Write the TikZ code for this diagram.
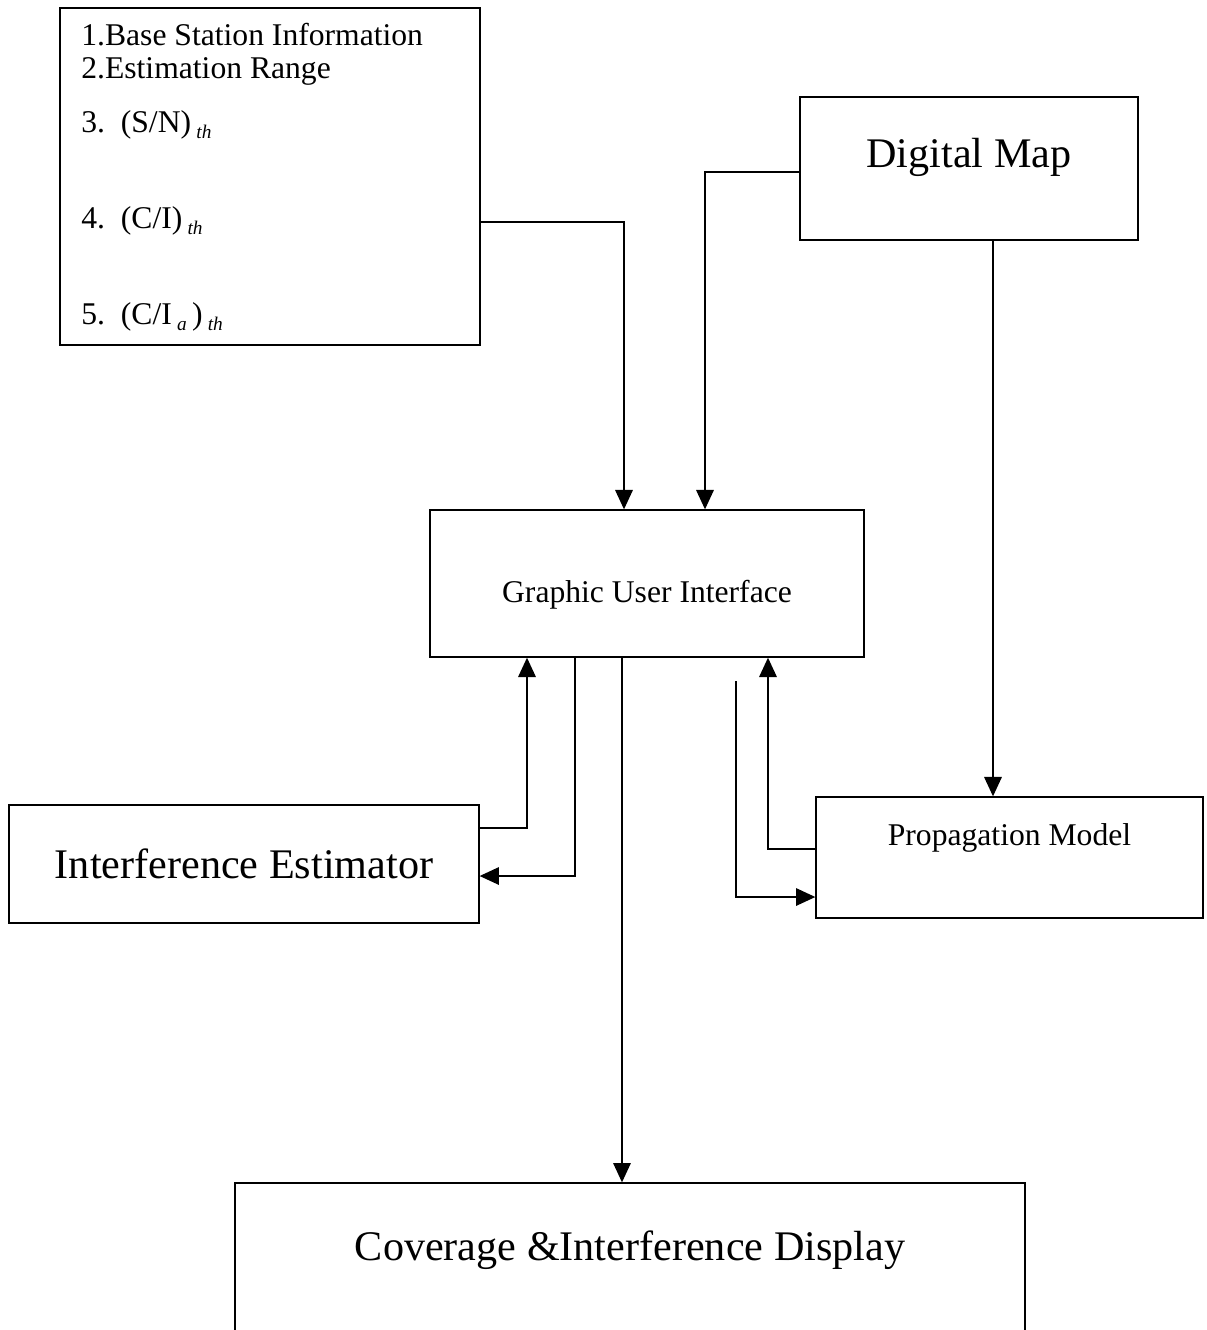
\documentclass[tikz,border=0pt]{standalone}
\usepackage{fontspec}
\setmainfont{Liberation Serif}
\usepackage{tikz}
\usetikzlibrary{arrows.meta}

\tikzset{
  block/.style={draw, line width=0.8pt, inner sep=0pt, align=center},
  bigtext/.style={font=\fontsize{24}{28}\selectfont},
  smalltext/.style={font=\fontsize{18}{21}\selectfont},
  flow/.style={->, line width=0.8pt},
}
\newcommand{\thsub}[1]{\raisebox{-0.45ex}{\fontsize{11}{12}\selectfont\itshape #1}}

\begin{document}
\begin{tikzpicture}[x=0.02cm, y=-0.02cm, >={Triangle[length=11pt, width=10pt]}]
  \useasboundingbox (0,0) rectangle (1207,1330);
  \clip (0,0) rectangle (1207,1330);

  % boxes
  \node[block, minimum width=8.4cm, minimum height=6.74cm] (params) at (270,176.5) {};
  \node[smalltext, anchor=base west, inner sep=0pt] (p1) at (81,45) {1.Base Station Information};
  \node[smalltext, anchor=base west, inner sep=0pt] (p2) at (81,78) {2.Estimation Range};
  \node[smalltext, anchor=base west, inner sep=0pt] (p3) at (81,132) {3.\ \ (S/N)\,\thsub{th}};
  \node[smalltext, anchor=base west, inner sep=0pt] (p4) at (81,228) {4.\ \ (C/I)\,\thsub{th}};
  \node[smalltext, anchor=base west, inner sep=0pt] (p5) at (81,324) {5.\ \ (C/I\,\thsub{a}\,)\,\thsub{th}};

  \node[block, minimum width=6.76cm, minimum height=2.86cm,
    label={[bigtext, anchor=center, yshift=-1.22cm]north:Digital Map}] (map) at (969,168.5) {};
  \node[block, minimum width=8.68cm, minimum height=2.94cm,
    label={[smalltext, anchor=center, yshift=-1.70cm]north:Graphic User Interface}] (gui) at (647,583.5) {};
  \node[block, bigtext, minimum width=9.4cm, minimum height=2.36cm] (interf) at (244,864) {Interference Estimator};
  \node[block, minimum width=7.74cm, minimum height=2.42cm,
    label={[smalltext, anchor=center, yshift=-0.84cm]north:Propagation Model}] (prop) at (1009.5,857.5) {};
  \node[block, minimum width=15.8cm, minimum height=3.34cm,
    label={[bigtext, anchor=center, yshift=-1.36cm]north:Coverage \&Interference Display}] (cover) at (630,1266.5) {};

  % connectors
  \draw[flow] (params.east |- 0,222) -| (624,0 |- gui.north);
  \draw[flow] (map.west |- 0,172) -| (705,0 |- gui.north);
  \draw[flow] (993,0 |- map.south) -- (993,0 |- prop.north);
  \draw[flow] (interf.east |- 0,828) -| (527,0 |- gui.south);
  \draw[flow] (575,0 |- gui.south) |- (interf.east |- 0,876);
  \draw[flow] (622,0 |- gui.south) -- (622,0 |- cover.north);
  \draw[flow] (prop.west |- 0,849) -| (768,0 |- gui.south);
  \coordinate (fb) at (736,681);
  \draw[flow] (fb) |- (prop.west |- 0,897);
\end{tikzpicture}
\end{document}
